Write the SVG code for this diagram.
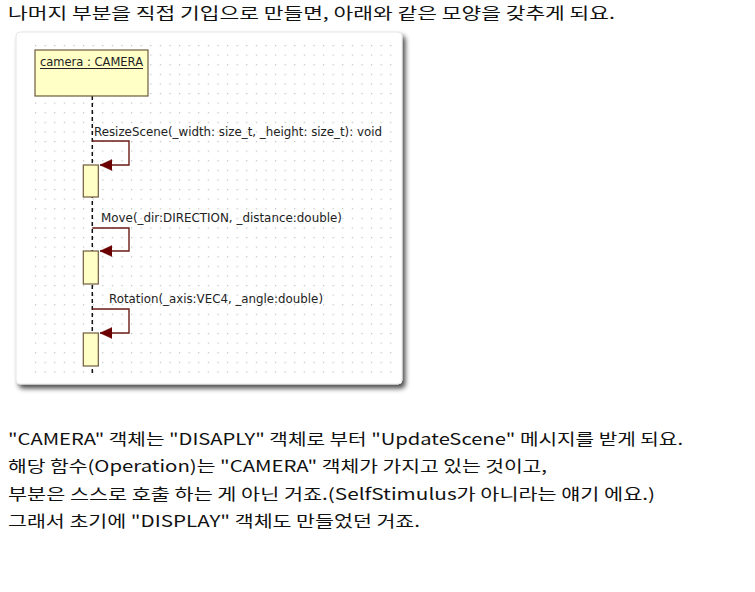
<svg xmlns="http://www.w3.org/2000/svg" width="755" height="592" viewBox="0 0 755 592">
<defs>
<style>
.kr{font-family:"Noto Sans CJK KR","Noto Sans",sans-serif;font-size:16px;fill:#111}
.lbl{font-family:"DejaVu Sans","Liberation Sans",sans-serif;font-size:12px;fill:#222}
.box{fill:#ffffc6;stroke:#6e5a3c;stroke-width:1.2}
.msg{fill:none;stroke:#6b1a14;stroke-width:1.4}
.life{stroke:#111;stroke-width:1.5;stroke-dasharray:4 3;fill:none}
</style>
<pattern id="dots" x="35" y="45" width="9.6" height="9.6" patternUnits="userSpaceOnUse">
<rect x="0" y="0" width="1.2" height="1.2" fill="#bdbdbd"/>
</pattern>
<marker id="arr" viewBox="0 0 12 12" refX="12" refY="6" markerWidth="12" markerHeight="12" markerUnits="userSpaceOnUse" orient="auto">
<path d="M0,0.5 L12,6 L0,11.5 Z" fill="#6b0000" stroke="#6b0000" stroke-width="0.5"/>
</marker>
<filter id="sh" x="-5%" y="-5%" width="115%" height="115%">
<feGaussianBlur in="SourceAlpha" stdDeviation="2.5"/>
<feOffset dx="3" dy="4" result="b"/>
<feComponentTransfer><feFuncA type="linear" slope="0.7"/></feComponentTransfer>
<feMerge><feMergeNode/><feMergeNode in="SourceGraphic"/></feMerge>
</filter>
</defs>
<rect width="755" height="592" fill="#ffffff"/>
<text class="kr" x="8" y="19" textLength="607" lengthAdjust="spacingAndGlyphs">나머지 부분을 직접 기입으로 만들면, 아래와 같은 모양을 갖추게 되요.</text>
<g id="panel">
<rect x="16" y="32" width="386" height="352" rx="4" fill="#ffffff" stroke="#e6e6e6" stroke-width="1" filter="url(#sh)"/>
<rect x="34" y="44" width="358" height="330" fill="url(#dots)"/>
</g>
<g id="connectors">
<line class="life" x1="92.3" y1="96" x2="92.3" y2="375"/>
<path class="msg" d="M92.3,141 H129 V165 H100" marker-end="url(#arr)"/>
<path class="msg" d="M92.3,228 H129 V251 H100" marker-end="url(#arr)"/>
<path class="msg" d="M92.3,309 H129 V333 H100" marker-end="url(#arr)"/>
<text class="lbl" x="94" y="136" textLength="288" lengthAdjust="spacingAndGlyphs">ResizeScene(_width: size_t, _height: size_t): void</text>
<text class="lbl" x="101" y="222" textLength="241" lengthAdjust="spacingAndGlyphs">Move(_dir:DIRECTION, _distance:double)</text>
<text class="lbl" x="109" y="303" textLength="214" lengthAdjust="spacingAndGlyphs">Rotation(_axis:VEC4, _angle:double)</text>
</g>
<g id="camera">
<rect class="box" x="35" y="50" width="113" height="46"/>
<text class="lbl" x="40" y="66" textLength="103" lengthAdjust="spacingAndGlyphs">camera : CAMERA</text>
<line x1="40" y1="68.5" x2="143" y2="68.5" stroke="#222" stroke-width="1"/>
</g>
<g id="activation1"><rect class="box" x="83.3" y="165" width="15" height="32"/></g>
<g id="activation2"><rect class="box" x="83.3" y="251" width="15" height="33"/></g>
<g id="activation3"><rect class="box" x="83.3" y="333" width="15" height="33"/></g>
<g id="body">
<text class="kr" x="8" y="445" textLength="675" lengthAdjust="spacingAndGlyphs">"CAMERA" 객체는 "DISAPLY" 객체로 부터 "UpdateScene" 메시지를 받게 되요.</text>
<text class="kr" x="8" y="472" textLength="539" lengthAdjust="spacingAndGlyphs">해당 함수(Operation)는 "CAMERA" 객체가 가지고 있는 것이고,</text>
<text class="kr" x="8" y="500" textLength="647" lengthAdjust="spacingAndGlyphs">부분은 스스로 호출 하는 게 아닌 거죠.(SelfStimulus가 아니라는 얘기 에요.)</text>
<text class="kr" x="8" y="527" textLength="412" lengthAdjust="spacingAndGlyphs">그래서 초기에 "DISPLAY" 객체도 만들었던 거죠.</text>
</g>
</svg>
